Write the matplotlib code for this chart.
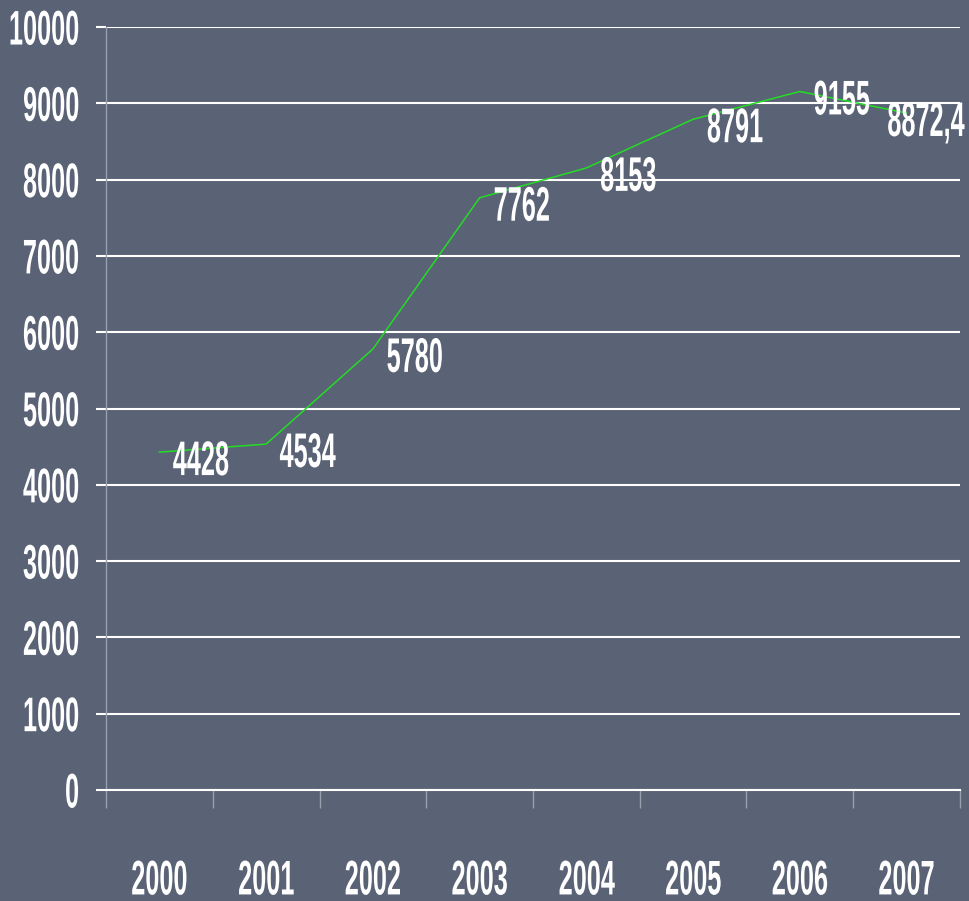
import matplotlib.pyplot as plt
from matplotlib.ticker import MultipleLocator
from matplotlib.patheffects import AbstractPathEffect
from matplotlib.transforms import Affine2D

years = ['2000', '2001', '2002', '2003', '2004', '2005', '2006', '2007']
values = [4428, 4534, 5780, 7762, 8153, 8791, 9155, 8872.4]
value_labels = ['4428', '4534', '5780', '7762', '8153', '8791', '9155', '8872,4']

bg = '#5a6276'
font = ['Liberation Sans', 'DejaVu Sans']
fsize = 35


# the reference uses a tall, narrow face: squeeze the glyphs horizontally
class Squeeze(AbstractPathEffect):
    def __init__(self, sx, anchor):
        super().__init__()
        self.sx = sx
        self.anchor = anchor  # 0 left, 0.5 centre, 1 right

    def draw_path(self, renderer, gc, tpath, affine, rgbFace=None):
        ext = tpath.get_extents()
        x0 = ext.x0 + self.anchor * ext.width
        t = Affine2D().translate(-x0, 0).scale(self.sx, 1).translate(x0, 0) + affine
        renderer.draw_path(gc, tpath, t, rgbFace)


SX = 0.52

fig = plt.figure(figsize=(9.69, 9.01), dpi=100, facecolor=bg)
ax = fig.add_axes([0.1094, 0.1232, 0.8813, 0.8468])
ax.set_facecolor(bg)

x = list(range(len(years)))
ax.plot(x, values, color='#22dd22', lw=1.1, zorder=3)

# data labels sit to the right of each point, last one pulled back inside
for i, (v, lab) in enumerate(zip(values, value_labels)):
    dx = 9.4 if i < len(values) - 1 else -14.4
    ax.annotate(lab, (i, v), xytext=(dx, -16.5), textcoords='offset points',
                ha='left', va='baseline', color='white', fontsize=fsize,
                fontweight='bold', family=font, zorder=4, annotation_clip=False,
                path_effects=[Squeeze(SX, 0)])

ax.set_xlim(-0.5, 7.5)
ax.set_ylim(0, 10000)
ax.yaxis.set_major_locator(MultipleLocator(1000))
ax.grid(axis='y', color='white', lw=1.5)
ax.set_axisbelow(True)

ax.set_xticks(x)
ax.set_xticklabels(years)
ax.set_xticks([i - 0.5 for i in range(len(years) + 1)], minor=True)
ax.tick_params(axis='x', which='major', length=0, pad=50)
ax.tick_params(axis='x', which='minor', length=13, color='#9a9fae', width=1)
ax.tick_params(axis='y', length=7.2, color='white', width=1.5, pad=11.5)

for lab in ax.get_xticklabels() + ax.get_yticklabels():
    lab.set_color('white')
    lab.set_fontsize(fsize)
    lab.set_fontweight('bold')
    lab.set_family(font)
for lab in ax.get_xticklabels():
    lab.set_path_effects([Squeeze(SX, 0.5)])
for lab in ax.get_yticklabels():
    lab.set_path_effects([Squeeze(SX, 1)])

for s in ['top', 'right']:
    ax.spines[s].set_visible(False)
ax.spines['left'].set_color('#9a9fae')
ax.spines['left'].set_linewidth(1)
ax.spines['bottom'].set_color('white')
ax.spines['bottom'].set_linewidth(1.5)

fig.savefig('out.png', dpi=100, facecolor=bg)
